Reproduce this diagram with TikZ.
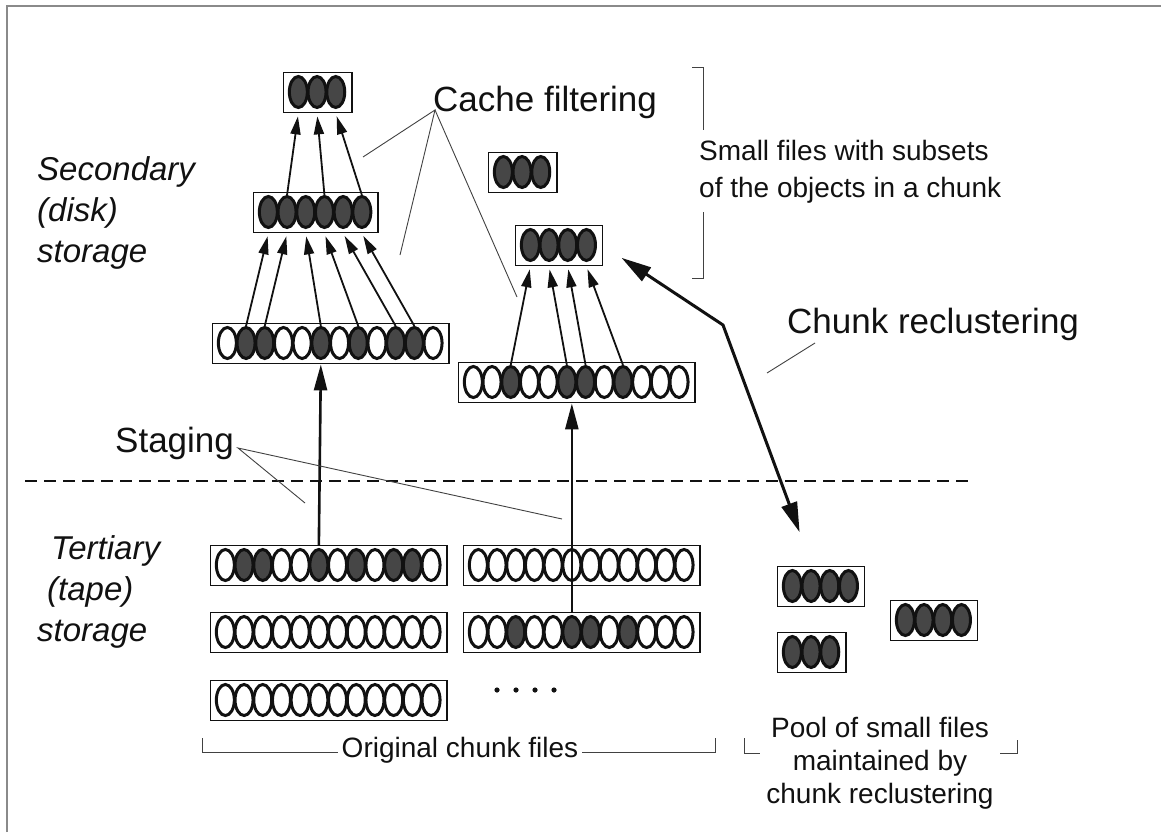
\documentclass[tikz,border=0pt]{standalone}
\usepackage{fontspec}
\setmainfont{Liberation Sans}
\usetikzlibrary{arrows.meta,positioning,calc,shapes.geometric}
\definecolor{ink}{HTML}{111111}
\definecolor{objfill}{HTML}{464646}
\definecolor{frame}{HTML}{8A8A8A}
\tikzset{
  filebox/.style={draw=ink,line width=1.4pt,fill=white,inner sep=0pt,minimum height=40pt},
  obj/.style={ellipse,draw=ink,line width=3pt,minimum width=18pt,minimum height=31pt,inner sep=0pt,fill=white},
  o0/.style={obj},
  o1/.style={obj,fill=objfill},
  cachearrow/.style={-{Triangle[length=18pt,width=10pt]},draw=ink,line width=1.8pt,shorten >=3pt},
  stagearrow/.style={-{Triangle[length=26pt,width=13pt]},draw=ink,line width=2.6pt},
  reclarrow/.style={{Triangle[length=30pt,width=16pt]}-{Triangle[length=30pt,width=16pt]},draw=ink,line width=3pt},
  callout/.style={draw=ink!80,line width=0.9pt},
  biglabel/.style={font=\fontsize{35}{40}\selectfont,text=ink,inner sep=0pt},
  midlabel/.style={font=\fontsize{28}{37}\selectfont,text=ink,inner sep=0pt},
  sidelabel/.style={font=\fontsize{33}{41}\selectfont\itshape,text=ink,inner sep=0pt},
}
% a chunk file: name, left x, top y, list of objects (1 = selected)
\newcommand{\chunkfile}[4]{%
  \foreach \s [count=\i] in {#4} {\xdef\nobj{\i}}
  \node[filebox,minimum width={12+18.7*\nobj},anchor=north west] (#1) at (#2,#3) {};
  \foreach \s [count=\i] in {#4}
    \node[o\s] (#1-\i) at ({#2+6+18.7*(\i-0.5)},{#3+20}) {};
}

\begin{document}
\begin{tikzpicture}[x=1pt,y=-1pt]
\useasboundingbox (0,0) rectangle (1161,832);
\draw[frame,line width=1.5pt] (7,832) -- (7,6) -- (1161,6);

% secondary (disk) storage ---------------------------------------------------
\node[sidelabel,anchor=north west,align=left] (disklbl) at (37,156) {Secondary\\(disk)\\storage};

\chunkfile{A}{283}{72}{1,1,1}
\chunkfile{B}{253}{192}{1,1,1,1,1,1}
\chunkfile{C}{212}{323}{0,1,1,0,0,1,0,1,0,1,1,0}
\chunkfile{D}{488}{152}{1,1,1}
\chunkfile{E}{515}{225}{1,1,1,1}
\chunkfile{F}{458}{362}{0,0,1,0,0,1,1,0,1,0,0,0}

\foreach \s/\t in {2/1,3/2,6/3,8/4,10/5,11/6}
  \draw[cachearrow] (C-\s.north) -- (B-\t |- B.south);
\foreach \s/\t in {2/1,4/2,6/3}
  \draw[cachearrow] (B-\s.north) -- (A-\t |- A.south);
\foreach \s/\t in {3/1,6/2,7/3,9/4}
  \draw[cachearrow] (F-\s.north) -- (E-\t |- E.south);

% cache filtering callout
\node[biglabel,anchor=base west] (cachelbl) at (433,112) {Cache filtering};
\coordinate (cfapex) at (435,110);
\coordinate (cf1) at (363,157);
\coordinate (cf2) at (400,255);
\coordinate (cf3) at (517,297);
\draw[callout] (cf1) -- (cfapex) -- (cf2);
\draw[callout] (cfapex) -- (cf3);

% small files bracket
\node[midlabel,anchor=west,align=left] (smalllbl) at (699,172) {Small files with subsets\\of the objects in a chunk};
\draw[callout] (692,67) -- (703,67) -- (703,130);
\draw[callout] (703,212) -- (703,278) -- (692,278);

% tertiary (tape) storage ----------------------------------------------------
\draw[ink,line width=1.3pt,dash pattern=on 12pt off 7pt] (25,481) -- (970,481);
\node[sidelabel,anchor=north west,align=left] (tapelbl) at (37,535) {\hspace*{14pt}Tertiary\\\hspace*{10pt}(tape)\\storage};

\chunkfile{G}{210}{545}{0,1,1,0,0,1,0,1,0,1,1,0}
\chunkfile{H}{463}{545}{0,0,0,0,0,0,0,0,0,0,0,0}
\chunkfile{I}{210}{612}{0,0,0,0,0,0,0,0,0,0,0,0}
\chunkfile{J}{463}{612}{0,0,1,0,0,1,1,0,1,0,0,0}
\chunkfile{K}{210}{680}{0,0,0,0,0,0,0,0,0,0,0,0}
\foreach \d in {497,516,535,554}
  \fill[ink] (\d,690) circle (2.6pt);

% staging
\draw[stagearrow] (G-6 |- G.north) -- (C-6 |- C.south);
\draw[stagearrow] (J-6 |- J.north) -- (J-6 |- F.south);
\node[biglabel,anchor=base west] (staglbl) at (115,452) {Staging};
\coordinate (stapex) at (238,448);
\coordinate (st1) at (305,503);
\coordinate (st2) at (562,519);
\draw[callout] (st1) -- (stapex) -- (st2);

% pool of small files --------------------------------------------------------
\chunkfile{L}{777}{566}{1,1,1,1}
\chunkfile{M}{890}{600}{1,1,1,1}
\chunkfile{N}{777}{632}{1,1,1}

\coordinate (reclbend) at (723,325);
\draw[reclarrow,shorten <=22pt,shorten >=36pt] (E.east) -- (reclbend) -- ([xshift=-9pt]L.north);
\node[biglabel,anchor=base west] (recllbl) at (787,333) {Chunk reclustering};
\coordinate (rc1) at (815,343);
\coordinate (rc2) at (767,373);
\draw[callout] (rc1) -- (rc2);

% bottom brackets
\node[midlabel] (origlbl) at (460,750) {Original chunk files};
\draw[callout] (202,738) -- (202,752) -- ([xshift=-4pt]origlbl.west |- 0,752);
\draw[callout] ([xshift=4pt]origlbl.east |- 0,752) -- (715,752) -- (715,738);
\node[midlabel,align=center,font=\fontsize{28}{33}\selectfont] (poollbl) at (880,763) {Pool of small files\\maintained by\\chunk reclustering};
\draw[callout] (744,738) -- (744,753) -- (760,753);
\draw[callout] (1000,753) -- (1017,753) -- (1017,740);

\end{tikzpicture}
\end{document}
